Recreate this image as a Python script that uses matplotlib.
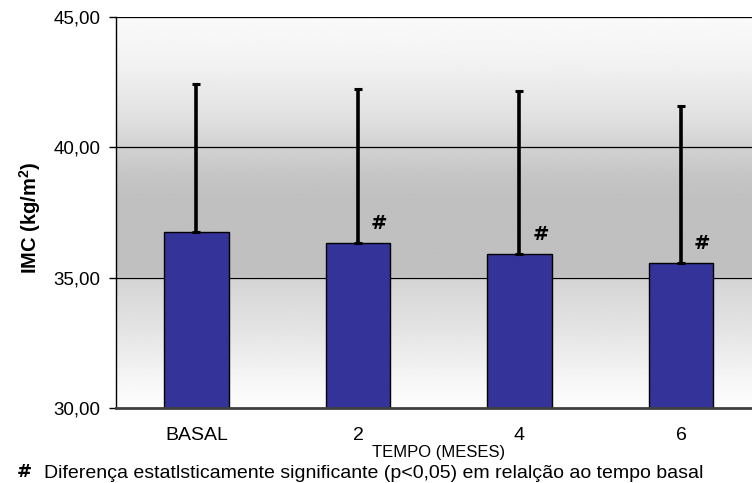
import numpy as np
import matplotlib
matplotlib.use('Agg')
import matplotlib.pyplot as plt
from matplotlib.ticker import FuncFormatter

plt.rcParams['font.family'] = ['Liberation Sans', 'DejaVu Sans']
plt.rcParams['mathtext.fontset'] = 'custom'
plt.rcParams['mathtext.rm'] = 'Liberation Sans'
plt.rcParams['mathtext.bf'] = 'Liberation Sans:bold'

# data
tempos = ['BASAL', '2', '4', '6']
imc_media = [36.74, 36.32, 35.90, 35.55]
imc_dp = [5.68, 5.92, 6.26, 6.04]
significativo = [False, True, True, True]
y_ticks = [30, 35, 40, 45]

fig = plt.figure(figsize=(7.52, 4.83), dpi=100)
# axes runs a little past the right edge, like the cropped original
ax = fig.add_axes([115.7 / 752, 1 - 408 / 483, (761.7 - 115.7) / 752, (408 - 16.7) / 483])

# grey gradient background (light at top and bottom, darker in the middle)
stops_v = [30.0, 31.06, 32.98, 35.0, 35.02, 37.97, 38.74, 40.04, 41.04, 43.34, 45.0]
stops_g = [253, 246, 228, 212, 192, 192, 196, 210, 224, 243, 250]
yy = np.linspace(30, 45, 600)
grad = np.interp(yy, stops_v, stops_g)[:, None] / 255.0
ax.imshow(grad, cmap='gray', vmin=0, vmax=1, extent=[-0.5, 3.5, 30, 45],
          origin='lower', aspect='auto', zorder=0, interpolation='bilinear')

x = np.arange(len(tempos))
ax.bar(x, imc_media, width=0.40, bottom=0, color='#333399', edgecolor='black',
       linewidth=1, zorder=3)
ax.errorbar(x, imc_media, yerr=[np.zeros(len(x)), imc_dp], fmt='none',
            ecolor='black', elinewidth=2.6, capsize=3.2, capthick=2.2, zorder=4)

for xi, v, s in zip(x, imc_media, significativo):
    if s:
        ax.text(xi + 0.13, v + 0.75, '#', ha='center', va='center',
                fontsize=14, fontweight='heavy', family='DejaVu Sans', zorder=5)

ax.set_xlim(-0.5, 3.5)
ax.set_ylim(30, 45)
ax.set_yticks(y_ticks)
ax.yaxis.set_major_formatter(FuncFormatter(lambda v, p: f'{v:.2f}'.replace('.', ',')))
for t in y_ticks[1:]:
    ax.axhline(t, color='black', linewidth=0.9, zorder=1)

ax.set_xticks(x)
ax.set_xticklabels(tempos)
ax.tick_params(axis='x', length=0, pad=14, labelsize=14)
ax.tick_params(axis='y', length=5, width=1, pad=6, labelsize=13.5, direction='out')

ax.spines['top'].set_visible(False)
ax.spines['right'].set_visible(False)
ax.spines['left'].set_color('black')
ax.spines['left'].set_linewidth(1)
ax.spines['bottom'].set_color('#404040')
ax.spines['bottom'].set_linewidth(2)
ax.spines['bottom'].set_zorder(6)

fig.text(30 / 752, 1 - 218 / 483, r'IMC (kg/m$^{\mathbf{2}}$)', rotation=90,
         ha='center', va='center', fontsize=14.5, fontweight='bold')
fig.text(439 / 752, 1 - 452 / 483, 'TEMPO (MESES)', ha='center', va='center', fontsize=12)
fig.text(24 / 752, 1 - 472 / 483, '#', ha='center', va='center', fontsize=13,
         fontweight='heavy', family='DejaVu Sans')
fig.text(44 / 752, 1 - 473 / 483,
         'Diferença estatlsticamente significante (p<0,05) em relalção ao tempo basal',
         ha='left', va='center', fontsize=14)

fig.savefig('out.png', dpi=100, facecolor='white')
